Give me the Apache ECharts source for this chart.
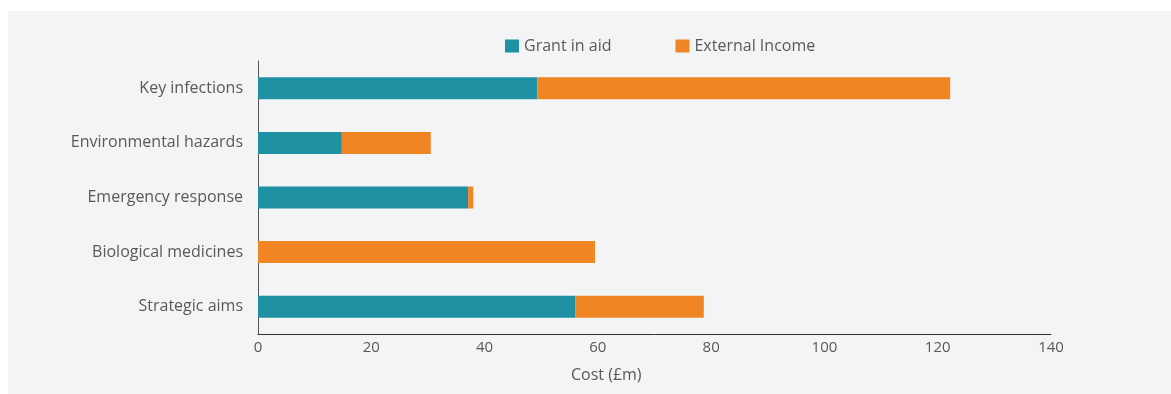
<!DOCTYPE html>
<html>
<head>
<meta charset="utf-8">
<script src="https://cdn.jsdelivr.net/npm/echarts@6/dist/echarts.min.js"></script>
<style>
  html, body { margin: 0; padding: 0; background: #ffffff; }
  #chart { width: 1171px; height: 394px; }
</style>
</head>
<body>
<div id="chart"></div>
<script>
// Programme areas, top to bottom
const categories = ['Key infections', 'Environmental hazards', 'Emergency response', 'Biological medicines', 'Strategic aims'];
// Cost by funding source (£m)
const grantInAid = [49.3, 14.8, 37.1, 0, 56.0];
const externalIncome = [72.9, 15.7, 0.9, 59.5, 22.7];
const xTicks = { min: 0, max: 140, interval: 20 };

const FONT = '"Open Sans", "Noto Sans", sans-serif';
const TEXT = '#595959';

const chart = echarts.init(document.getElementById('chart'), null, { renderer: 'canvas' });
chart.setOption({
  animation: false,
  textStyle: { fontFamily: FONT },
  graphic: [
    { type: 'rect', z: -10, shape: { x: 8, y: 11, width: 1163, height: 383 }, style: { fill: '#f3f4f6' } },
    { type: 'text', left: 571, top: 367, style: { text: 'Cost (£m)', font: '16px ' + FONT, fill: TEXT } }
  ],
  legend: {
    left: 500, top: 33, padding: 5,
    icon: 'rect',
    itemWidth: 14, itemHeight: 13, itemGap: 64,
    textStyle: { fontSize: 16, color: TEXT, fontFamily: FONT },
    data: ['Grant in aid', 'External Income']
  },
  grid: { left: 258, right: 120, top: 61, bottom: 60, containLabel: false },
  xAxis: {
    type: 'value', min: xTicks.min, max: xTicks.max, interval: xTicks.interval,
    axisLine: { show: true, lineStyle: { color: '#333333', width: 1 } },
    axisTick: { show: false },
    splitLine: { show: false },
    axisLabel: { color: TEXT, fontSize: 15, margin: 6, fontFamily: FONT }
  },
  yAxis: {
    type: 'category', data: categories, inverse: true,
    axisLine: { show: true, lineStyle: { color: '#555555', width: 1 } },
    axisTick: { show: false },
    axisLabel: { color: TEXT, fontSize: 16, margin: 15, fontFamily: FONT }
  },
  series: [
    { name: 'Grant in aid', type: 'bar', stack: 'cost', data: grantInAid, barWidth: 22,
      itemStyle: { color: '#2091a3' } },
    { name: 'External Income', type: 'bar', stack: 'cost', data: externalIncome, barWidth: 22,
      itemStyle: { color: '#f08524' } }
  ]
});
</script>
</body>
</html>
